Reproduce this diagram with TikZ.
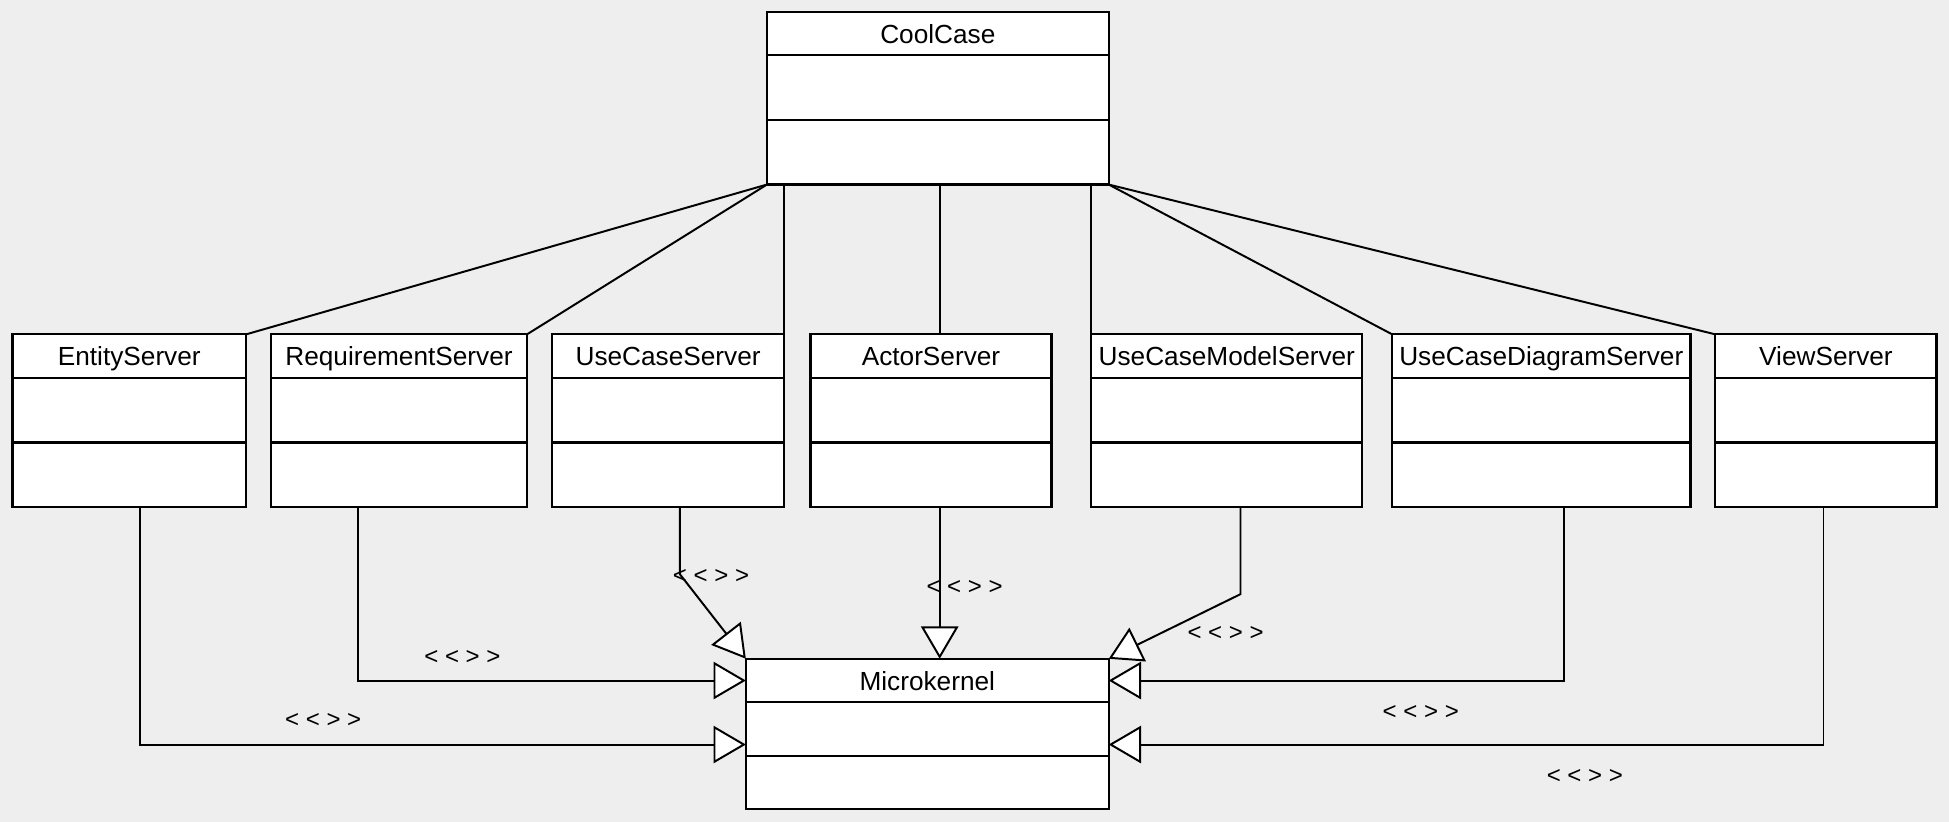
\documentclass[tikz,border=0pt]{standalone}
\usepackage{fontspec}
\newfontfamily\umlfont{Liberation Sans}
\usetikzlibrary{calc,positioning,arrows.meta}
\definecolor{canvas}{HTML}{EEEEEE}
\tikzset{
  >=Stealth,
  classhead/.style={
    rectangle,
    draw=black, line width=1pt,
    fill=white,
    inner sep=0pt, outer sep=0pt,
    minimum height=0.7cm,
    text height=1.1em, text depth=0.2em,
    font=\umlfont\fontsize{12}{14}\selectfont},
  classpart/.style={
    rectangle,
    draw=black, line width=1pt,
    fill=white,
    inner sep=0pt, outer sep=0pt,
    minimum height=1.04cm},
  smallpart/.style={
    classpart,
    minimum height=0.86cm},
  assoc/.style={draw, line width=0.9pt},
  gen/.style={draw, line width=0.9pt,
    -{Triangle[length=0.52cm, width=0.6cm, fill=white, line width=0.9pt]}},
  stereo/.style={inner sep=0pt, font=\umlfont\fontsize{11}{12}\selectfont},
}
\begin{document}
\begin{tikzpicture}[x=0.02cm, y=-0.02cm]
\fill[canvas] (0,0) rectangle (1568,661);
\useasboundingbox (0,0) rectangle (1568,661);

% top class
\node[classhead, minimum width=5.5cm] (CoolHead) at (754.5,27) {CoolCase};
\node[classpart, minimum width=5.5cm, below=0pt of CoolHead] (CoolAttr) {};
\node[classpart, minimum width=5.5cm, below=0pt of CoolAttr] (CoolOps) {};

% servers
\node[classhead, minimum width=3.76cm] (EntityHead) at (104,286.5) {EntityServer};
\node[classpart, minimum width=3.76cm, below=0pt of EntityHead] (EntityAttr) {};
\node[classpart, minimum width=3.76cm, below=0pt of EntityAttr] (EntityOps) {};

\node[classhead, minimum width=4.12cm] (ReqHead) at (321,286.5) {RequirementServer};
\node[classpart, minimum width=4.12cm, below=0pt of ReqHead] (ReqAttr) {};
\node[classpart, minimum width=4.12cm, below=0pt of ReqAttr] (ReqOps) {};

\node[classhead, minimum width=3.74cm] (UseCaseHead) at (537.5,286.5) {UseCaseServer};
\node[classpart, minimum width=3.74cm, below=0pt of UseCaseHead] (UseCaseAttr) {};
\node[classpart, minimum width=3.74cm, below=0pt of UseCaseAttr] (UseCaseOps) {};

\node[classhead, minimum width=3.88cm] (ActorHead) at (749,286.5) {ActorServer};
\node[classpart, minimum width=3.88cm, below=0pt of ActorHead] (ActorAttr) {};
\node[classpart, minimum width=3.88cm, below=0pt of ActorAttr] (ActorOps) {};

\node[classhead, minimum width=4.36cm] (ModelHead) at (987,286.5) {UseCaseModelServer};
\node[classpart, minimum width=4.36cm, below=0pt of ModelHead] (ModelAttr) {};
\node[classpart, minimum width=4.36cm, below=0pt of ModelAttr] (ModelOps) {};

\node[classhead, minimum width=4.8cm] (DiagHead) at (1240,286.5) {UseCaseDiagramServer};
\node[classpart, minimum width=4.8cm, below=0pt of DiagHead] (DiagAttr) {};
\node[classpart, minimum width=4.8cm, below=0pt of DiagAttr] (DiagOps) {};

\node[classhead, minimum width=3.56cm] (ViewHead) at (1469,286.5) {ViewServer};
\node[classpart, minimum width=3.56cm, below=0pt of ViewHead] (ViewAttr) {};
\node[classpart, minimum width=3.56cm, below=0pt of ViewAttr] (ViewOps) {};

% kernel
\node[classhead, minimum width=5.84cm] (MicroHead) at (746,547.5) {Microkernel};
\node[smallpart, minimum width=5.84cm, below=0pt of MicroHead] (MicroAttr) {};
\node[smallpart, minimum width=5.84cm, below=0pt of MicroAttr] (MicroOps) {};

% associations
\draw[assoc] (CoolOps.south west) -- (EntityHead.north east);
\draw[assoc] (CoolOps.south west) -- (ReqHead.north east);
\draw[assoc] (UseCaseHead.north east) -- (UseCaseHead.north east |- CoolOps.south);
\coordinate (actorTop) at (756,0);
\draw[assoc] (actorTop |- ActorHead.north) -- (actorTop |- CoolOps.south);
\draw[assoc] (ModelHead.north west) -- (ModelHead.north west |- CoolOps.south);
\draw[assoc] (CoolOps.south east) -- (DiagHead.north west);
\draw[assoc] (CoolOps.south east) -- (ViewHead.north west);

% generalizations
\coordinate (entityBend) at (113,599);
\coordinate (reqBend) at (288,547.5);
\coordinate (useCaseBend) at (547,462);
\coordinate (actorBend) at (756,0);
\coordinate (modelBend) at (998,478);
\coordinate (diagBend) at (1258,547.5);
\coordinate (viewBend) at (1467,599);
\draw[gen] (entityBend |- EntityOps.south) -- (entityBend) -- (entityBend -| MicroHead.west);
\draw[gen] (reqBend |- ReqOps.south) -- (reqBend) -- (MicroHead.west);
\draw[gen] (useCaseBend |- UseCaseOps.south) -- (useCaseBend) -- (MicroHead.north west);
\draw[gen] (actorBend |- ActorOps.south) -- (actorBend |- MicroHead.north);
\draw[gen] (modelBend |- ModelOps.south) -- (modelBend) -- (MicroHead.north east);
\draw[gen] (diagBend |- DiagOps.south) -- (diagBend) -- (MicroHead.east);
\draw[gen] (viewBend |- ViewOps.south) -- (viewBend) -- (viewBend -| MicroHead.east);

% stereotype labels
\node[stereo] (entityLab) at (260,580) {< < > >};
\node[stereo] (reqLab) at (372,529) {< < > >};
\node[stereo] (useCaseLab) at (572,464) {< < > >};
\node[stereo] (actorLab) at (776,473) {< < > >};
\node[stereo] (modelLab) at (986,510) {< < > >};
\node[stereo] (diagLab) at (1143,573) {< < > >};
\node[stereo] (viewLab) at (1275,625) {< < > >};

\end{tikzpicture}
\end{document}
